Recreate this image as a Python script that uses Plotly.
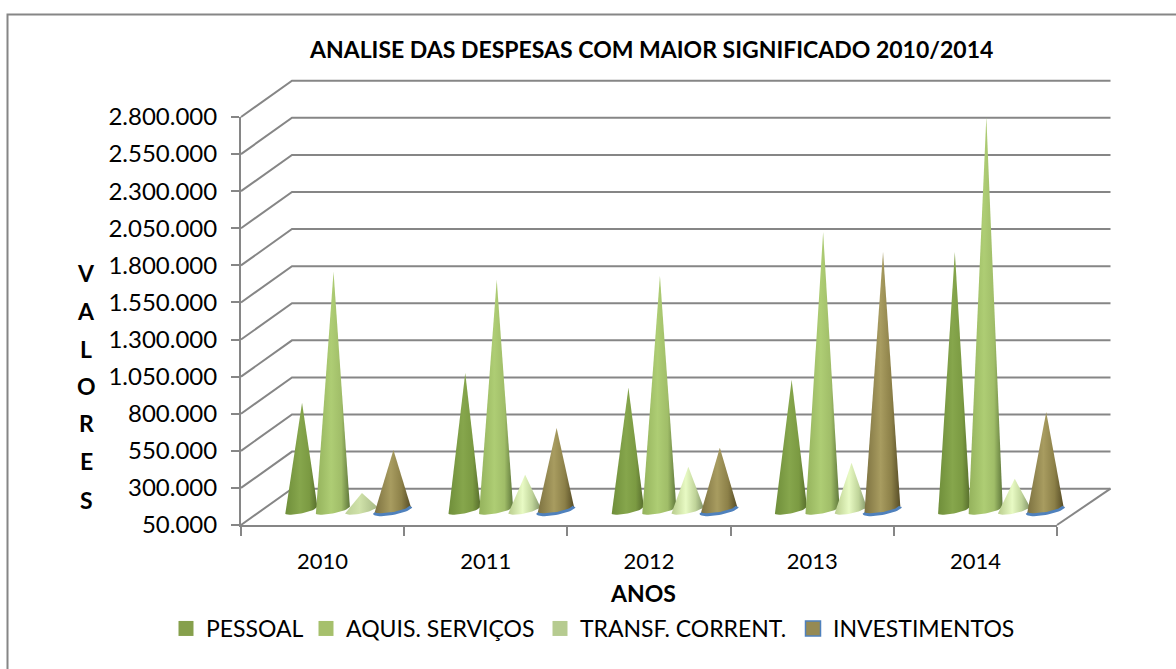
import numpy as np
import plotly.graph_objects as go

YEARS = ["2010", "2011", "2012", "2013", "2014"]
PESSOAL = [751000, 953000, 852000, 906000, 1768000]
AQUIS = [1634000, 1580000, 1607000, 1903000, 2678000]
TRANSF = [144000, 266000, 320000, 347000, 239000]
INVEST = [434000, 582000, 448000, 1768000, 690000]
SERIES_NAMES = ["PESSOAL", "AQUIS. SERVIÇOS", "TRANSF. CORRENT.", "INVESTIMENTOS"]
Y_TICKS = [50000 + 250000 * i for i in range(12)]
Y_LABELS = [f"{v:,}".replace(",", ".") for v in Y_TICKS]
TITLE = "ANALISE DAS DESPESAS COM MAIOR SIGNIFICADO 2010/2014"
Y_LETTERS = list("VALORES")

FONT = "Lato"
GRID = "#868686"
LEGEND_COLORS = ["#86a04c", "#a6c06c", "#b6cb90", "#958a54"]
LEGEND_WIDTHS = [95, 189, 208, 179]
SCALES = [
    [[0, "#6f8e3a"], [0.45, "#86a64c"], [0.75, "#7b9a42"], [1, "#566c2c"]],
    [[0, "#94b25c"], [0.45, "#aecd74"], [0.75, "#a0bd68"], [1, "#5e763a"]],
    [[0, "#b8cc8c"], [0.45, "#e8fac4"], [0.75, "#c0d49a"], [1, "#84966a"]],
    [[0, "#7c7140"], [0.45, "#a89c60"], [0.75, "#8c8048"], [1, "#564c26"]],
]
PALE_SCALE = [[0, "#bcd096"], [0.45, "#d0e2aa"], [1, "#a8ba86"]]
OFFSETS = [0.368, 0.561, 0.735, 0.928]
HALF = [0.100, 0.106, 0.098, 0.112]

W, H = 1176, 669
L, R, T, B = 241, 1057, 117, 525          # front axes box
L0, R0, T0, B0 = 231, 1120, 71, 535       # larger box for the 3D frame and cones
PX_X = 5 / (R - L)
PX_Y = 2750000 / (B - T)
DX = 51 * PX_X
DX_RIGHT = 53.5 * PX_X
DY = 36.3 * PX_Y


def x_val(p):
    return (p - L) * PX_X


def y_val(p):
    return 50000 + (B - p) * PX_Y


def px(p):
    return (p - L0) / (R0 - L0)


def py(p):
    return (B0 - p) / (B0 - T0)


fig = go.Figure()

# 3D frame: back wall and side wall gridlines, floor edge
for v in Y_TICKS:
    fig.add_trace(go.Scatter(x=[0, DX, 5 + DX_RIGHT], y=[v, v + DY, v + DY], mode="lines",
                             xaxis="x2", yaxis="y2",
                             line=dict(color=GRID, width=2),
                             showlegend=False, hoverinfo="skip"))
fig.add_trace(go.Scatter(x=[5, 5 + DX_RIGHT], y=[50000, 50000 + DY], mode="lines",
                         xaxis="x2", yaxis="y2",
                         line=dict(color=GRID, width=2),
                         showlegend=False, hoverinfo="skip"))

# cones
data = [PESSOAL, AQUIS, TRANSF, INVEST]
for g in range(len(YEARS)):
    for s, vals in enumerate(data):
        cx = g + OFFSETS[s]
        hw = HALF[s]
        base = 50000 + 0.42 * DY
        t = np.linspace(np.pi, 2 * np.pi, 25)
        ax = cx + hw * np.cos(t)
        ay = base + 3.8 * PX_Y * np.sin(t) + 3.2 * PX_Y * np.cos(t)
        xs = [cx + 0.006] + list(ax) + [cx + 0.006]
        ys = [vals[g] + DY / 2] + list(ay) + [vals[g] + DY / 2]
        scale = PALE_SCALE if (g == 0 and s == 2) else SCALES[s]
        fig.add_trace(go.Scatter(x=xs, y=ys, mode="lines", fill="toself",
                                 xaxis="x2", yaxis="y2",
                                 line=dict(width=0),
                                 fillgradient=dict(type="horizontal", colorscale=scale),
                                 name=SERIES_NAMES[s], legendgroup=SERIES_NAMES[s],
                                 showlegend=False, hoverinfo="name+y"))
        if s == 3:
            fig.add_trace(go.Scatter(x=ax, y=ay, mode="lines",
                                     xaxis="x2", yaxis="y2",
                                     line=dict(color="#4f81bd", width=3),
                                     showlegend=False, hoverinfo="skip"))

# legend entries (on the front axes, which keeps them displayed)
for s, name in enumerate(SERIES_NAMES):
    fig.add_trace(go.Scatter(x=[None], y=[None], mode="markers", name=name,
                             legendgroup=name, legendwidth=LEGEND_WIDTHS[s],
                             marker=dict(symbol="square", size=15, color=LEGEND_COLORS[s],
                                         line=dict(color="#4f81bd" if s == 3 else LEGEND_COLORS[s],
                                                   width=1.5 if s == 3 else 0))))

annotations = [
    dict(text=f"<b>{TITLE}</b>", x=px(651), y=py(49), font=dict(size=23)),
    dict(text="<b>ANOS</b>", x=px(643), y=py(593), font=dict(size=23)),
]
for letter, yy in zip(Y_LETTERS, [273, 311, 349, 386, 423, 461, 500]):
    annotations.append(dict(text=f"<b>{letter}</b>", x=px(86), y=py(yy), font=dict(size=23)))
for a in annotations:
    a.update(xref="paper", yref="paper", showarrow=False, xanchor="center", yanchor="middle")
    a["font"].update(family=FONT, color="#000000")

fig.update_layout(
    width=W, height=H,
    margin=dict(l=L0, r=W - R0, t=T0, b=H - B0, pad=0),
    paper_bgcolor="white", plot_bgcolor="rgba(0,0,0,0)",
    font=dict(family=FONT, size=22, color="#000000"),
    xaxis=dict(domain=[px(L), px(R)], range=[0, 5], tickmode="array",
               tickvals=[i + 0.5 for i in range(5)], ticktext=YEARS, ticks="",
               showgrid=False, zeroline=False, anchor="y",
               showline=True, linecolor=GRID, linewidth=2, ticklabelstandoff=16,
               tickfont=dict(size=22),
               minor=dict(tickmode="array", tickvals=list(range(6)), ticks="outside",
                          ticklen=9, tickwidth=1.5, tickcolor=GRID, showgrid=False)),
    yaxis=dict(domain=[py(B), py(T)], range=[50000, 2800000], tickmode="array",
               tickvals=Y_TICKS, ticktext=Y_LABELS, anchor="x",
               ticks="outside", ticklen=8, tickwidth=1.5, tickcolor=GRID,
               ticklabelstandoff=9, tickfont=dict(size=24),
               showgrid=False, zeroline=False, showline=True, linecolor=GRID, linewidth=2),
    xaxis2=dict(domain=[0, 1], range=[x_val(L0), x_val(R0)], visible=False, anchor="y2"),
    yaxis2=dict(domain=[0, 1], range=[y_val(B0), y_val(T0)], visible=False, anchor="x2"),
    legend=dict(orientation="h", x=px(166), y=py(607), xanchor="left", yanchor="top",
                font=dict(size=23, family=FONT), itemsizing="trace", tracegroupgap=0,
                bgcolor="rgba(0,0,0,0)"),
    annotations=annotations,
    shapes=[dict(type="rect", xref="paper", yref="paper", x0=px(7.5), x1=px(1300),
                 y0=py(800), y1=py(14.5), line=dict(color=GRID, width=2), layer="below")],
)
fig.write_html("out.html", config=dict(displayModeBar=False),
               post_script="document.body.style.margin='0';document.body.style.overflow='hidden';")
